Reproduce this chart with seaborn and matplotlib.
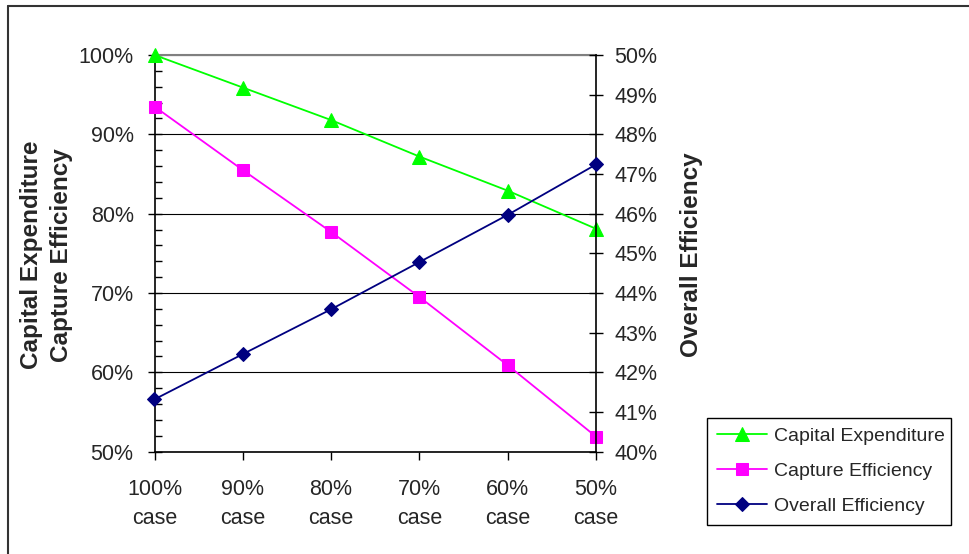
import matplotlib
matplotlib.use("Agg")
import matplotlib.pyplot as plt
import seaborn as sns
from matplotlib.ticker import MultipleLocator, PercentFormatter
from matplotlib.lines import Line2D

# Scenario data (values in percent)
cases = ["100%\ncase", "90%\ncase", "80%\ncase", "70%\ncase", "60%\ncase", "50%\ncase"]
capital_expenditure = [100.0, 95.9, 91.8, 87.2, 82.9, 78.1]
capture_efficiency = [93.5, 85.5, 77.7, 69.5, 60.9, 51.9]
overall_efficiency = [41.32, 42.46, 43.59, 44.78, 45.97, 47.24]

sns.set_style("white")
plt.rcParams["font.family"] = ["Liberation Sans", "DejaVu Sans"]

W, H = 969, 554
fig = plt.figure(figsize=(W / 100, H / 100), dpi=100)
fig.patch.set_facecolor("white")

# plot area in pixel coordinates
x0, x1, y_top, y_bot = 154.5, 596.0, 55.0, 451.7
ax = fig.add_axes([x0 / W, (H - y_bot) / H, (x1 - x0) / W, (y_bot - y_top) / H])
ax2 = ax.twinx()

pos = list(range(len(cases)))
lw = 1.3
ms = 8
tick_fs = 15.5

sns.lineplot(x=pos, y=capital_expenditure, ax=ax, color="#00FF00", marker="^",
             markersize=ms + 1.5, markeredgecolor="#00FF00", linewidth=lw,
             clip_on=False, label="Capital Expenditure", zorder=5)
sns.lineplot(x=pos, y=capture_efficiency, ax=ax, color="#FF00FF", marker="s",
             markersize=ms, markeredgecolor="#FF00FF", linewidth=lw,
             clip_on=False, label="Capture Efficiency", zorder=5)
sns.lineplot(x=pos, y=overall_efficiency, ax=ax2, color="#000080", marker="D",
             markersize=ms - 0.5, markeredgecolor="#000080", linewidth=lw,
             clip_on=False, label="Overall Efficiency", zorder=5)

h1, l1 = ax.get_legend_handles_labels()
h2, l2 = ax2.get_legend_handles_labels()
for a in (ax, ax2):
    if a.get_legend() is not None:
        a.get_legend().remove()

# left axis
ax.set_xlim(0, 5)
ax.set_ylim(50, 100)
ax.yaxis.set_major_locator(MultipleLocator(10))
ax.yaxis.set_minor_locator(MultipleLocator(2))
ax.yaxis.set_major_formatter(PercentFormatter(xmax=100, decimals=0))
ax.tick_params(axis="y", which="major", direction="inout", length=10, width=1,
               color="black", labelsize=tick_fs, pad=10, left=True)
ax.tick_params(axis="y", which="minor", direction="in", length=5, width=1,
               color="black", left=True)
ax.set_xticks(pos)
ax.set_xticklabels(cases, linespacing=1.5)
ax.tick_params(axis="x", which="major", direction="out", length=6, width=1,
               color="black", labelsize=tick_fs, pad=14, bottom=True)
ax.yaxis.grid(True, which="major", color="black", linewidth=0.8)
ax.set_axisbelow(True)

# right axis
ax2.set_ylim(40, 50)
ax2.yaxis.set_major_locator(MultipleLocator(1))
ax2.yaxis.set_major_formatter(PercentFormatter(xmax=100, decimals=0))
ax2.tick_params(axis="y", which="major", direction="inout", length=10, width=1,
                color="black", labelsize=tick_fs, pad=8, right=True)

for a in (ax, ax2):
    for s in a.spines.values():
        s.set_visible(False)
ax.spines["left"].set_visible(True)
ax.spines["left"].set_color("black")
ax.spines["bottom"].set_visible(True)
ax.spines["bottom"].set_color("black")
ax.spines["top"].set_visible(True)
ax.spines["top"].set_color("#808080")
ax.spines["top"].set_linewidth(1.5)
ax2.spines["right"].set_visible(True)
ax2.spines["right"].set_color("black")
for s in ("left", "bottom"):
    ax.spines[s].set_linewidth(1.2)
ax2.spines["right"].set_linewidth(1.2)

ax.set_ylabel("Capital Expenditure\nCapture Efficiency", fontsize=17.5,
              fontweight="bold", linespacing=1.4)
ax.yaxis.set_label_coords(-0.184, 0.496)
ax2.set_ylabel("Overall Efficiency", fontsize=17.5, fontweight="bold",
               rotation=90)
ax2.yaxis.set_label_coords(1.19, 0.497)

# legend box
lx0, lx1, ly0, ly1 = 707, 951, 525, 415
leg = fig.legend(h1 + h2, l1 + l2, loc="lower left",
                 bbox_to_anchor=(lx0 / W, (H - ly0) / H, (lx1 - lx0) / W, (ly0 - ly1) / H),
                 mode="expand", fontsize=14, frameon=True, fancybox=False,
                 framealpha=1, edgecolor="black", borderaxespad=0,
                 handlelength=2.6, handletextpad=0.35, labelspacing=0.9,
                 borderpad=0.5)
leg.get_frame().set_linewidth(1.0)

# outer chart frame (left and top edges)
fig.add_artist(Line2D([7.5 / W, 7.5 / W], [0, (H - 5.5) / H], transform=fig.transFigure,
                      color="#333333", linewidth=1.5))
fig.add_artist(Line2D([7.5 / W, 1], [(H - 5.5) / H, (H - 5.5) / H], transform=fig.transFigure,
                      color="#333333", linewidth=1.5))

fig.savefig("out.png", dpi=100, facecolor="white")
